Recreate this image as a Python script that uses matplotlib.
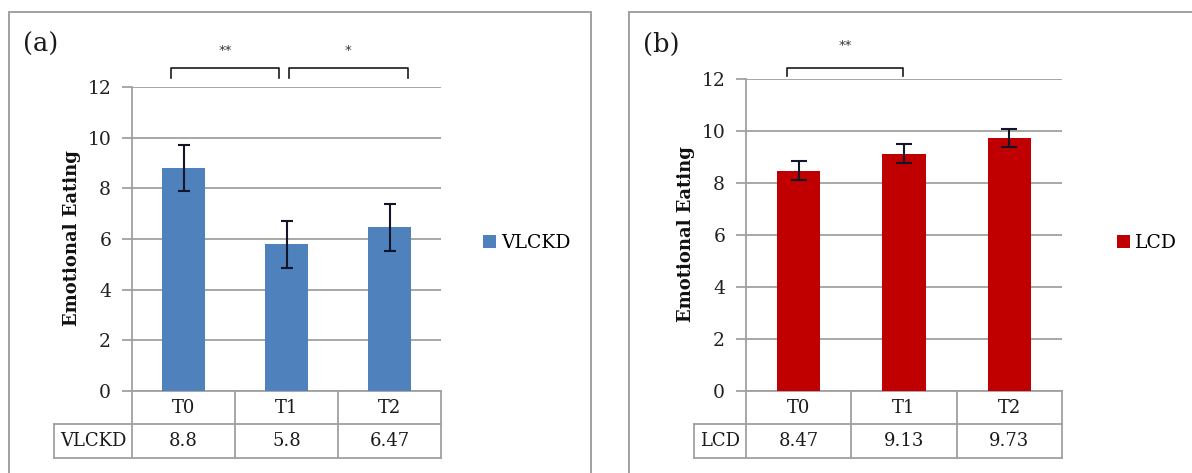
import matplotlib
matplotlib.use("Agg")
import matplotlib.pyplot as plt
from matplotlib.patches import Rectangle
from matplotlib.lines import Line2D

# ---------------- data ----------------
timepoints = ["T0", "T1", "T2"]
vlckd_values = [8.8, 5.8, 6.47]
vlckd_errors = [0.9, 0.93, 0.93]
lcd_values = [8.47, 9.13, 9.73]
lcd_errors = [0.36, 0.36, 0.35]
y_ticks = [0, 2, 4, 6, 8, 10, 12]
# significance brackets: (from group, to group, label)
vlckd_sig = [(0, 1, "**"), (1, 2, "*")]
lcd_sig = [(0, 1, "**")]

W, H = 1192, 473
fig = plt.figure(figsize=(W / 100, H / 100), dpi=100)
fig.patch.set_facecolor("white")

SERIF = ["DejaVu Serif"]
GRID = "#a0a0a0"
LINE = "#a0a0a0"


def fx(px):
    return px / W


def fy(py):
    return 1 - py / H


def panel(ax_px, values, errors, color, name, sig, tag, border_px,
          rowlab_left_px, legend_px, ylab_px, caps, br_ends, br_geom):
    x0, y0, x1, y1 = ax_px
    ax = fig.add_axes([fx(x0), fy(y1), fx(x1) - fx(x0), fy(y0) - fy(y1)])
    xs = list(range(len(timepoints)))
    ax.bar(xs, values, width=0.41, color=color, zorder=3, label=name)
    ax.errorbar(xs, values, yerr=errors, fmt="none", ecolor="#15152a",
                elinewidth=1.5, capsize=caps, capthick=1.5, zorder=4)
    ax.set_xlim(-0.5, len(timepoints) - 0.5)
    ax.set_ylim(0, 12)
    ax.set_yticks(y_ticks)
    ax.set_yticklabels([str(t) for t in y_ticks], fontsize=13.5, family=SERIF,
                       color="#222222")
    ax.set_xticks([])
    ax.grid(axis="y", color=GRID, linewidth=1.3, zorder=0)
    for s in ["top", "right", "bottom"]:
        ax.spines[s].set_visible(False)
    ax.spines["left"].set_color(LINE)
    ax.spines["left"].set_linewidth(1.3)
    ax.tick_params(axis="y", length=7, width=1.3, color=LINE, pad=8)

    ax.set_ylabel("Emotional Eating", fontsize=13, family=SERIF,
                  fontweight="bold", va="center", color="#111111")
    ax.yaxis.set_label_coords((ylab_px[0] - x0) / (x1 - x0),
                              (y1 - ylab_px[1]) / (y1 - y0))

    # data table under the axis
    axw = x1 - x0
    axh = y1 - y0
    r1 = -(33 / axh)
    r2 = -(67 / axh)
    rl = (rowlab_left_px - x0) / axw
    tk = dict(transform=ax.transAxes, color=LINE, linewidth=1.3, clip_on=False)
    ax.add_line(Line2D([0, 1], [0, 0], **tk))
    ax.add_line(Line2D([rl, 1], [r1, r1], **tk))
    ax.add_line(Line2D([rl, 1], [r2, r2], **tk))
    ax.add_line(Line2D([rl, rl], [r1, r2], **tk))
    n = len(timepoints)
    for i in range(n + 1):
        ax.add_line(Line2D([i / n, i / n], [0, r2], **tk))
    txt = dict(transform=ax.transAxes, ha="center", va="center",
               fontsize=13, family=SERIF, color="#1a1a1a", clip_on=False)
    for i, (t, v) in enumerate(zip(timepoints, values)):
        ax.text((i + 0.5) / n, r1 / 2, t, **txt)
        ax.text((i + 0.5) / n, (r1 + r2) / 2, f"{v:g}", **txt)
    ax.text(rl / 2, (r1 + r2) / 2, name, **txt)

    # significance brackets
    rise, drop, star_off = br_geom
    for (a, b, lab), (da, db) in zip(sig, br_ends):
        xa = a + da
        xb = b + db
        ytop = 12 + rise
        ybot = ytop - drop
        ax.plot([xa, xa, xb, xb], [ybot, ytop, ytop, ybot], color="#1a1a1a",
                linewidth=1.2, clip_on=False, zorder=5)
        ax.text((xa + xb) / 2, ytop + star_off, lab, ha="center",
                va="center", fontsize=9.5, color="#333333", clip_on=False)

    # legend
    ax.legend(loc="center left",
              bbox_to_anchor=((legend_px[0] - x0) / axw,
                              (y1 - legend_px[1]) / axh),
              frameon=False, handlelength=0.7, handleheight=0.7,
              handletextpad=0.25, borderaxespad=0, borderpad=0,
              prop={"family": SERIF, "size": 13.5})

    # panel border and tag
    bx0, by0, bx1 = border_px
    fig.add_artist(Rectangle((fx(bx0), fy(H + 20)), fx(bx1) - fx(bx0),
                             fy(by0) - fy(H + 20), transform=fig.transFigure,
                             fill=False, edgecolor=LINE, linewidth=1.4))
    fig.text(fx(bx0 + 14), fy(44), tag, fontsize=18.5, family=SERIF,
             va="center", ha="left", color="#1a1a1a")
    return ax


panel((132, 87, 441, 391), vlckd_values, vlckd_errors, "#4f81bd", "VLCKD",
      vlckd_sig, "(a)", (9, 12, 591), 54, (483, 243), (72, 238), 4.5,
      [(-0.12, -0.07), (0.02, 0.18)], (0.75, 0.4, 0.7))
panel((746, 79, 1062, 391), lcd_values, lcd_errors, "#c00000", "LCD",
      lcd_sig, "(b)", (629, 12, 1250), 694, (1117, 243), (686, 234), 5.5,
      [(-0.11, -0.01)], (0.42, 0.3, 0.88))

fig.savefig("out.png", dpi=100, facecolor="white")
